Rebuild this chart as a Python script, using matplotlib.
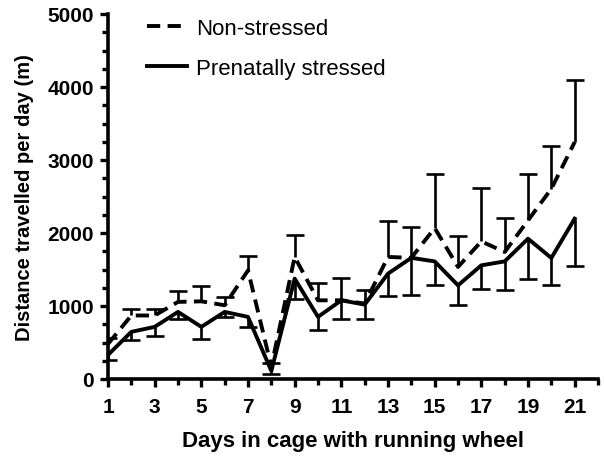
import matplotlib
matplotlib.use("Agg")
import matplotlib.pyplot as plt
import numpy as np
from matplotlib.ticker import MultipleLocator

days = np.arange(1, 22)
non_stressed = [480, 870, 870, 1056, 1064, 1010, 1488, 170, 1672, 1078, 1078, 1033,
                1672, 1660, 2068, 1535, 1885, 1740, 2172, 2606, 3245]
non_stressed_upper = [560, 964, 964, 1201, 1275, 1124, 1685, 220, 1967, 1320, 1385, 1215,
                      2159, 2082, 2811, 1959, 2615, 2205, 2802, 3190, 4097]
prenatal = [330, 646, 714, 919, 714, 919, 851, 110, 1375, 851, 1078, 1019,
            1443, 1660, 1611, 1283, 1557, 1611, 1922, 1658, 2196]
prenatal_lower = [260, 531, 591, 828, 545, 851, 714, 62, 1092, 668, 828, 818,
                  1138, 1146, 1283, 1019, 1228, 1215, 1375, 1283, 1549]

plt.rcParams['font.family'] = ['Liberation Sans', 'DejaVu Sans']

fig = plt.figure(figsize=(6.04, 4.6), dpi=100)
ax = fig.add_axes([108/604, 80/460, 490/604, 365/460])

lw = 2.8
ax.vlines(days, non_stressed, non_stressed_upper, color='black', lw=1.9, zorder=2)
ax.plot(days, non_stressed_upper, ls='none', marker='_', ms=13, mew=1.9, color='black', zorder=2)
ax.vlines(days, prenatal_lower, prenatal, color='black', lw=1.9, zorder=2)
ax.plot(days, prenatal_lower, ls='none', marker='_', ms=13, mew=1.9, color='black', zorder=2)

ax.plot(days, non_stressed, color='black', lw=lw, dashes=(3.4, 1.9),
        label='Non-stressed', zorder=3)
ax.plot(days, prenatal, color='black', lw=lw, label='Prenatally stressed', zorder=3)

ax.set_xlim(1, 22)
ax.set_ylim(0, 5000)
ax.set_xticks(np.arange(1, 22, 2))
ax.xaxis.set_minor_locator(MultipleLocator(1))
ax.yaxis.set_major_locator(MultipleLocator(1000))
ax.yaxis.set_minor_locator(MultipleLocator(250))

for s in ['top', 'right']:
    ax.spines[s].set_visible(False)
for s in ['left', 'bottom']:
    ax.spines[s].set_linewidth(2.6)

ax.tick_params(axis='both', which='major', length=6, width=2.4, labelsize=15, pad=4)
ax.tick_params(axis='x', which='major', pad=7)
ax.tick_params(axis='both', which='minor', length=4, width=2.4)
for lab in ax.get_xticklabels() + ax.get_yticklabels():
    lab.set_fontweight('bold')

ax.set_xlabel('Days in cage with running wheel', fontsize=16, fontweight='bold', labelpad=10)
ax.set_ylabel('Distance travelled per day (m)', fontsize=14.5, fontweight='bold', labelpad=10)

leg = ax.legend(loc='upper left', bbox_to_anchor=(0.0796, 0.989), frameon=False,
                fontsize=16, handlelength=1.8, handletextpad=0.4, labelspacing=0.85,
                borderpad=0, borderaxespad=0)

fig.savefig('out.png', dpi=100)
